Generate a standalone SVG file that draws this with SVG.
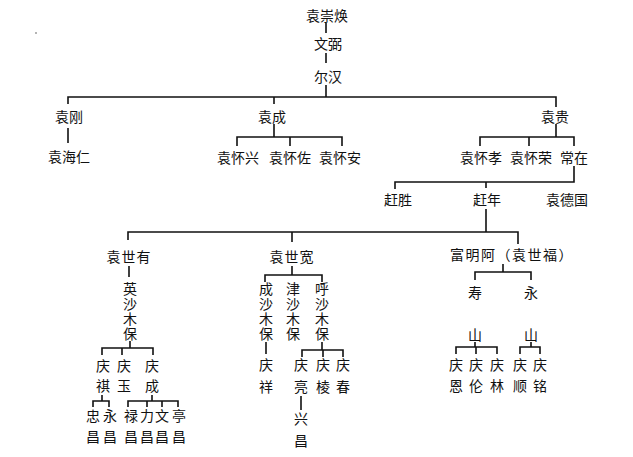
<svg xmlns="http://www.w3.org/2000/svg" width="633" height="457" viewBox="0 0 633 457">
<style>
.t{font-family:"Noto Sans CJK SC","Noto Sans CJK TC",sans-serif;font-size:14px;fill:#111;text-anchor:middle}
.v{font-family:"Noto Sans CJK SC","Noto Sans CJK TC",sans-serif;font-size:14px;fill:#111;writing-mode:vertical-rl;text-anchor:start;letter-spacing:1px}
.c{stroke:#111;stroke-width:1.6;fill:none}
</style>
<rect width="633" height="457" fill="#fff"/>
<circle cx="36" cy="33" r="0.8" fill="#555"/>
<g id="connectors" class="c">
<path d="M326 23V33M326 53V63M326 85V97"/>
<path d="M68 104V97H556V107M274 97V104"/>
<path d="M68 128V143"/>
<path d="M274 124V137M237 146V137H342V146M290 137V146"/>
<path d="M556 124V137M480 146V137H574V146M529 137V146"/>
<path d="M574 166V182H395V189M486 182V188"/>
<path d="M486 209V232M128 240V232H518V244M292 232V242"/>
<path d="M129 266V277"/>
<path d="M130 341V348M102 355V348H153V355M122 348V355"/>
<path d="M102 395V401M93 407V401H109V407"/>
<path d="M152 395V401M128 407V401H178V407M147 401V407M162 401V407"/>
<path d="M292 266V275M265 282V275H322V282"/>
<path d="M266 342V354"/>
<path d="M322 342V350M302 357V350H343V357M323 350V357"/>
<path d="M301 396V410"/>
<path d="M503 264V272M475 280V272H531V280"/>
<path d="M475 342V347M456 354V347H497V354M476 347V354"/>
<path d="M531 342V347M520 354V347H540V354"/>
</g>
<g id="n-yuanchonghuan"><text class="t" x="327" y="21">袁崇焕</text></g>
<g id="n-wenbi"><text class="t" x="328" y="49">文弼</text></g>
<g id="n-erhan"><text class="t" x="328" y="82">尔汉</text></g>
<g id="n-yuangang"><text class="t" x="69" y="122">袁刚</text></g>
<g id="n-yuanhairen"><text class="t" x="69" y="162">袁海仁</text></g>
<g id="n-yuancheng"><text class="t" x="272" y="122">袁成</text></g>
<g id="n-yuanhuaixing"><text class="t" x="238" y="163">袁怀兴</text></g>
<g id="n-yuanhuaizuo"><text class="t" x="290" y="163">袁怀佐</text></g>
<g id="n-yuanhuaian"><text class="t" x="340" y="163">袁怀安</text></g>
<g id="n-yuangui"><text class="t" x="555" y="122">袁贵</text></g>
<g id="n-yuanhuaixiao"><text class="t" x="481" y="163">袁怀孝</text></g>
<g id="n-yuanhuairong"><text class="t" x="531" y="163">袁怀荣</text></g>
<g id="n-changzai"><text class="t" x="574" y="163">常在</text></g>
<g id="n-ganshe"><text class="t" x="398" y="205">赶胜</text></g>
<g id="n-gannian"><text class="t" x="487" y="205">赶年</text></g>
<g id="n-yuandeguo"><text class="t" x="567" y="205">袁德国</text></g>
<g id="n-yuanshiyou"><text class="t" x="129" y="262" letter-spacing="1">袁世有</text></g>
<g id="n-yuanshikuan"><text class="t" x="292" y="262" letter-spacing="1">袁世宽</text></g>
<g id="n-fuminga"><text class="t" x="512" y="260" letter-spacing="1.5">富明阿（袁世福）</text></g>
<g id="n-yingshamubao"><text class="v" x="130" y="282">英沙木保</text></g>
<g id="n-qingqi"><text class="t"><tspan x="103" y="371">庆</tspan><tspan x="103" y="391">祺</tspan></text></g>
<g id="n-qingyu"><text class="t"><tspan x="124" y="371">庆</tspan><tspan x="124" y="391">玉</tspan></text></g>
<g id="n-qingcheng"><text class="t"><tspan x="152" y="371">庆</tspan><tspan x="152" y="391">成</tspan></text></g>
<g id="n-zhongchang"><text class="t"><tspan x="93" y="421">忠</tspan><tspan x="93" y="442">昌</tspan></text></g>
<g id="n-yongchang"><text class="t"><tspan x="110" y="421">永</tspan><tspan x="110" y="442">昌</tspan></text></g>
<g id="n-luchang"><text class="t"><tspan x="131" y="421">禄</tspan><tspan x="131" y="442">昌</tspan></text></g>
<g id="n-lichang"><text class="t"><tspan x="147" y="421">力</tspan><tspan x="147" y="442">昌</tspan></text></g>
<g id="n-wenchang"><text class="t"><tspan x="162" y="421">文</tspan><tspan x="162" y="442">昌</tspan></text></g>
<g id="n-tingchang"><text class="t"><tspan x="179" y="421">亭</tspan><tspan x="179" y="442">昌</tspan></text></g>
<g id="n-chengshamubao"><text class="v" x="266" y="282">成沙木保</text></g>
<g id="n-jinshamubao"><text class="v" x="293" y="282">津沙木保</text></g>
<g id="n-hushamubao"><text class="v" x="322" y="282">呼沙木保</text></g>
<g id="n-qingxiang"><text class="t"><tspan x="266" y="370">庆</tspan><tspan x="266" y="392">祥</tspan></text></g>
<g id="n-qingliang"><text class="t"><tspan x="301" y="370">庆</tspan><tspan x="301" y="392">亮</tspan></text></g>
<g id="n-qingleng"><text class="t"><tspan x="323" y="370">庆</tspan><tspan x="323" y="392">棱</tspan></text></g>
<g id="n-qingchun"><text class="t"><tspan x="343" y="370">庆</tspan><tspan x="343" y="392">春</tspan></text></g>
<g id="n-xingchang"><text class="t"><tspan x="301" y="424">兴</tspan><tspan x="301" y="446">昌</tspan></text></g>
<g id="n-shoushan"><text class="t"><tspan x="475" y="298">寿</tspan><tspan x="475" y="340">山</tspan></text></g>
<g id="n-yongshan"><text class="t"><tspan x="531" y="298">永</tspan><tspan x="531" y="340">山</tspan></text></g>
<g id="n-qingen"><text class="t"><tspan x="456" y="370">庆</tspan><tspan x="456" y="391">恩</tspan></text></g>
<g id="n-qinglun"><text class="t"><tspan x="476" y="370">庆</tspan><tspan x="476" y="391">伦</tspan></text></g>
<g id="n-qinglin"><text class="t"><tspan x="497" y="370">庆</tspan><tspan x="497" y="391">林</tspan></text></g>
<g id="n-qingshun"><text class="t"><tspan x="520" y="370">庆</tspan><tspan x="520" y="391">顺</tspan></text></g>
<g id="n-qingming"><text class="t"><tspan x="540" y="370">庆</tspan><tspan x="540" y="391">铭</tspan></text></g>
</svg>
